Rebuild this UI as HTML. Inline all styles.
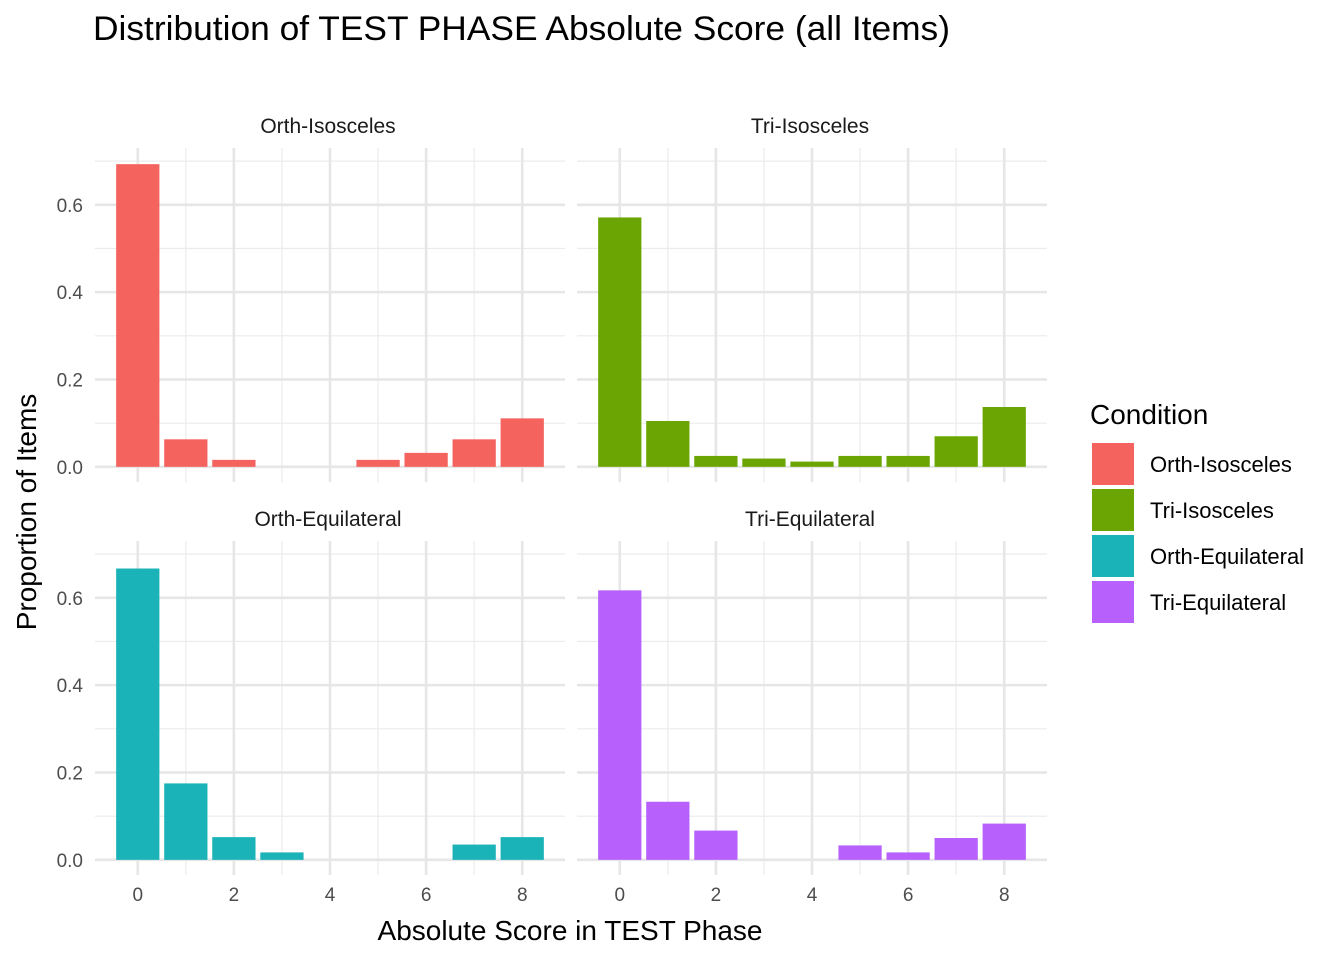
<!DOCTYPE html>
<html><head><meta charset="utf-8"><style>
body{margin:0;background:#fff;font-family:"Liberation Sans",Arial,sans-serif}
</style></head><body>
<svg id="c" width="1344" height="960" xmlns="http://www.w3.org/2000/svg" font-family="Liberation Sans, Arial, sans-serif">
<text x="93" y="40" font-size="34" fill="#000" textLength="857" lengthAdjust="spacingAndGlyphs">Distribution of TEST PHASE Absolute Score (all Items)</text>
<text x="570" y="940" font-size="28" text-anchor="middle" fill="#000">Absolute Score in TEST Phase</text>
<text transform="translate(36,512) rotate(-90)" font-size="28" text-anchor="middle" fill="#000">Proportion of Items</text>
<g id="plots"></g>
<g id="legend"></g>
</svg>
<script>
const conditions=["Orth-Isosceles","Tri-Isosceles","Orth-Equilateral","Tri-Equilateral"];
const colors=["#F5635E","#6BA503","#19B3B8","#B760FB"];
const scores=[0,1,2,3,4,5,6,7,8];
const orthIso=[0.693,0.063,0.016,0,0,0.016,0.032,0.063,0.111];
const triIso=[0.571,0.105,0.025,0.019,0.012,0.025,0.025,0.070,0.137];
const orthEq=[0.667,0.175,0.052,0.017,0,0,0,0.035,0.052];
const triEq=[0.617,0.133,0.067,0,0,0.033,0.017,0.050,0.083];
const yTicks=[0,0.2,0.4,0.6];
const yMinor=[0.1,0.3,0.5,0.7];
const xTicks=[0,2,4,6,8];
const xMinor=[1,3,5,7];
const series=[orthIso,triIso,orthEq,triEq];
const NS="http://www.w3.org/2000/svg";
const g=document.getElementById('plots');
function mk(t,a,p){const e=document.createElementNS(NS,t);for(const k in a)e.setAttribute(k,a[k]);(p||g).appendChild(e);return e;}
const panels=[{x0:95,y0:148},{x0:577,y0:148},{x0:95,y0:541},{x0:577,y0:541}];
const PW=470,PH=334,xmin=-0.89,xmax=8.89,ymin=-0.0347,ymax=0.73;
panels.forEach((p,i)=>{
  const sx=v=>p.x0+(v-xmin)/(xmax-xmin)*PW;
  const sy=v=>p.y0+PH-(v-ymin)/(ymax-ymin)*PH;
  const pg=mk('g',{});
  
  
  yMinor.forEach(v=>mk('line',{x1:p.x0,x2:p.x0+PW,y1:sy(v),y2:sy(v),stroke:'#ebebeb','stroke-width':1.2},pg));
  xMinor.forEach(v=>mk('line',{x1:sx(v),x2:sx(v),y1:p.y0,y2:p.y0+PH,stroke:'#ebebeb','stroke-width':1.2},pg));
  yTicks.forEach(v=>mk('line',{x1:p.x0,x2:p.x0+PW,y1:sy(v),y2:sy(v),stroke:'#e6e6e6','stroke-width':2.6},pg));
  xTicks.forEach(v=>mk('line',{x1:sx(v),x2:sx(v),y1:p.y0,y2:p.y0+PH,stroke:'#e6e6e6','stroke-width':2.6},pg));
  series[i].forEach((v,j)=>{
    if(v<=0)return;
    const r=mk('rect',{x:sx(scores[j]-0.45),width:sx(0.45)-sx(-0.45),y:sy(v),height:sy(0)-sy(v),fill:colors[i]},pg);
    
    
  });
  const st=mk('text',{x:p.x0+PW/2-2,y:p.y0-15,'font-size':21,'text-anchor':'middle',fill:'#1a1a1a'},pg);
  st.textContent=conditions[i];
  
  
  if(i%2===0){yTicks.forEach(v=>{const t=mk('text',{x:p.x0-12,y:sy(v)+7,'font-size':19,'text-anchor':'end',fill:'#4d4d4d'},pg);t.textContent=v.toFixed(1);
    
    });}
  if(i>=2){xTicks.forEach(v=>{const t=mk('text',{x:sx(v),y:p.y0+PH+26,'font-size':19,'text-anchor':'middle',fill:'#4d4d4d'},pg);t.textContent=v;
    
    });}
});
const lg=document.getElementById('legend');
const lt=mk('text',{x:1090,y:424,'font-size':28,fill:'#000'},lg);lt.textContent='Condition';


conditions.forEach((c,i)=>{
  const y=443+i*46;
  const r=mk('rect',{x:1092,y:y,width:42,height:42,fill:colors[i]},lg);
  
  
  const t=mk('text',{x:1150,y:y+29,'font-size':22,fill:'#000'},lg);t.textContent=c;
  
  
});
</script>
</body></html>
